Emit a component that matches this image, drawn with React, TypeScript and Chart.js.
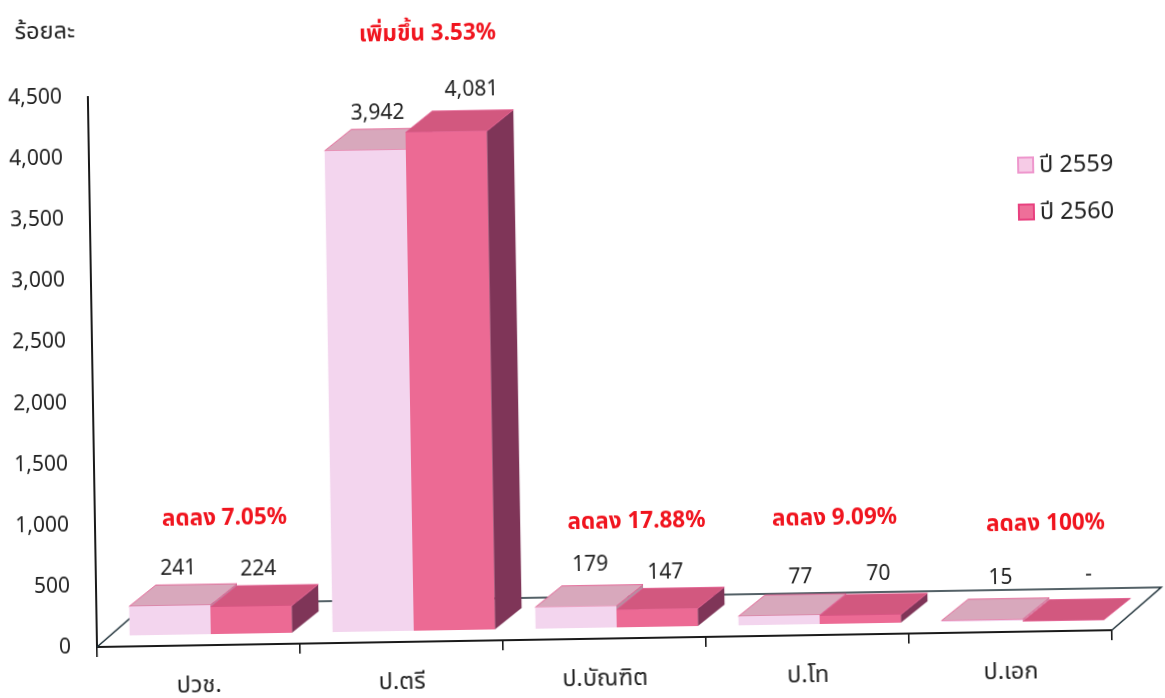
import React, { useEffect, useRef } from "react";
import { Chart, registerables } from "chart.js";

Chart.register(...registerables);

const categories = ["ปวช.", "ป.ตรี", "ป.บัณฑิต", "ป.โท", "ป.เอก"];
const series2559 = [241, 3942, 179, 77, 15];
const series2560 = [224, 4081, 147, 70, 0];
const seriesNames = ["ปี 2559", "ปี 2560"];
const changeNotes = ["ลดลง 7.05%", "เพิ่มขึ้น 3.53%", "ลดลง 17.88%", "ลดลง 9.09%", "ลดลง 100%"];
const axisTitle = "ร้อยละ";
const tickStep = 500;
const axisMax = 4500;

const FONT = '"Noto Sans", "Noto Sans Thai", Tahoma, sans-serif';
const frontColors = ["#F3D5EE", "#EC6A94"];
const topColors = ["#D8A8BC", "#D2587F"];
const sideColors = ["#B98AA0", "#7F3558"];
const swatchFill = ["#F6CBE6", "#EE6F99"];
const swatchEdge = ["#EE97CD", "#E8417F"];
const FLOOR = { dx: 50, dy: 42 };
const BAR_OFFSET = { dx: 12.5, dy: 10.5 };
const BAR_DEPTH = { dx: 27, dy: 21 };
const NOTE_PLACE = [
  { off: 28, level: 1034 },
  { off: 36, level: 4970 },
  { off: 34, level: 954 },
  { off: 29, level: 954 },
  { off: 37, level: 882 },
];
const LABEL_NUDGE = [
  [[1, 3], [5, 3], [7, -2], [14, 2], [11, -2]],
  [[0, 3], [18, -2], [1, 3], [11, -1], [18, -5]],
];

const poly = (ctx: CanvasRenderingContext2D, pts: number[][], fill: string | null, stroke?: string, w = 1) => {
  ctx.beginPath();
  pts.forEach((p, i) => (i ? ctx.lineTo(p[0], p[1]) : ctx.moveTo(p[0], p[1])));
  if (fill) {
    ctx.closePath();
    ctx.fillStyle = fill;
    ctx.fill();
  }
  if (stroke) {
    ctx.strokeStyle = stroke;
    ctx.lineWidth = w;
    ctx.stroke();
  }
};

const scene3d = {
  id: "scene3d",
  beforeDatasetsDraw(chart: any) {
    const { ctx, chartArea: a } = chart;
    ctx.save();
    // floor outline
    poly(ctx, [[a.left, a.bottom], [a.left + FLOOR.dx, a.bottom - FLOOR.dy], [a.right + FLOOR.dx, a.bottom - FLOOR.dy], [a.right, a.bottom]], null, "#1c2e36", 1.5);
    ctx.translate(BAR_OFFSET.dx, -BAR_OFFSET.dy);
    const metas = [chart.getDatasetMeta(0), chart.getDatasetMeta(1)];
    categories.forEach((_, i) => {
      metas.forEach((m, s) => {
        const b = m.data[i];
        const l = b.x - b.width / 2;
        const r = b.x + b.width / 2;
        const t = b.y;
        const base = b.base;
        const { dx, dy } = BAR_DEPTH;
        if (base - t > 0.5) {
          poly(ctx, [[r, t], [r + dx, t - dy], [r + dx, base - dy], [r, base]], sideColors[s]);
        }
        poly(ctx, [[l, t], [l + dx, t - dy], [r + dx, t - dy], [r, t]], topColors[s], "#E2558C", 0.8);
      });
    });
  },
  afterDatasetsDraw(chart: any) {
    const { ctx } = chart;
    ctx.restore();
    ctx.save();
    ctx.textAlign = "center";
    ctx.textBaseline = "middle";
    // value labels
    ctx.font = `21px ${FONT}`;
    ctx.fillStyle = "#222";
    chart.data.datasets.forEach((ds: any, s: number) => {
      chart.getDatasetMeta(s).data.forEach((b: any, i: number) => {
        const v = ds.data[i];
        const txt = v === 0 ? "-" : v.toLocaleString("en-US");
        const [nx, ny] = LABEL_NUDGE[s][i];
        ctx.fillText(txt, b.x + BAR_OFFSET.dx + 8 + nx, b.y - BAR_OFFSET.dy - BAR_DEPTH.dy - 19 + ny);
      });
    });
    // change notes
    ctx.font = `bold 22.5px ${FONT}`;
    ctx.fillStyle = "#F0141E";
    const xs = chart.scales.x;
    const ys = chart.scales.y;
    changeNotes.forEach((n, i) => {
      ctx.fillText(n, xs.getPixelForValue(i) + NOTE_PLACE[i].off, ys.getPixelForValue(NOTE_PLACE[i].level));
    });
    // axis title
    ctx.font = `23.5px ${FONT}`;
    ctx.fillStyle = "#222";
    ctx.fillText(axisTitle, 55, 31);
    // legend
    ctx.textAlign = "left";
    seriesNames.forEach((n, i) => {
      const y = 181 + i * 47;
      ctx.fillStyle = swatchFill[i];
      ctx.fillRect(1026, y - 8, 15, 15);
      ctx.strokeStyle = swatchEdge[i];
      ctx.lineWidth = 2;
      ctx.strokeRect(1026, y - 8, 15, 15);
      ctx.fillStyle = "#222";
      ctx.fillText(n, 1047, y);
    });
    ctx.restore();
  },
};

export default function App() {
  const ref = useRef<HTMLCanvasElement>(null);
  useEffect(() => {
    document.body.style.margin = "0";
    document.body.style.background = "#fff";
    document.body.style.overflow = "hidden";
    const chart = new Chart(ref.current!, {
      type: "bar",
      data: {
        labels: categories,
        datasets: [
          { label: seriesNames[0], data: series2559, backgroundColor: frontColors[0] },
          { label: seriesNames[1], data: series2560, backgroundColor: frontColors[1] },
        ],
      },
      plugins: [scene3d],
      options: {
        responsive: false,
        animation: false,
        layout: { padding: { top: 97, right: 53, left: 0, bottom: 0 } },
        plugins: { legend: { display: false }, tooltip: { enabled: false } },
        datasets: { bar: { categoryPercentage: 0.8, barPercentage: 1, clip: false } },
        scales: {
          x: {
            grid: { drawOnChartArea: false, drawTicks: true, tickLength: 10, color: "#1a1a1a", lineWidth: 1.6 },
            border: { color: "#1a1a1a", width: 2 },
            ticks: { color: "#222", font: { family: FONT, size: 23.5 }, padding: 16, maxRotation: 0 },
            afterFit: (s: any) => { s.height = 51; },
          },
          y: {
            min: 0,
            max: axisMax,
            grid: { drawOnChartArea: false, drawTicks: false },
            border: { color: "#1a1a1a", width: 2 },
            ticks: {
              stepSize: tickStep,
              color: "#222",
              padding: 26,
              font: { family: FONT, size: 21 },
              callback: (v: any) => Number(v).toLocaleString("en-US"),
            },
            afterFit: (s: any) => { s.width = 97; },
          },
        },
      },
    } as any);
    return () => chart.destroy();
  }, []);
  return (
    <canvas
      ref={ref}
      width={1165}
      height={698}
      style={{
        display: "block",
        width: 1165,
        height: 698,
        transform: "rotate(-0.95deg)",
        transformOrigin: "97px 647px",
        filter: "blur(0.4px)",
      }}
    />
  );
}
